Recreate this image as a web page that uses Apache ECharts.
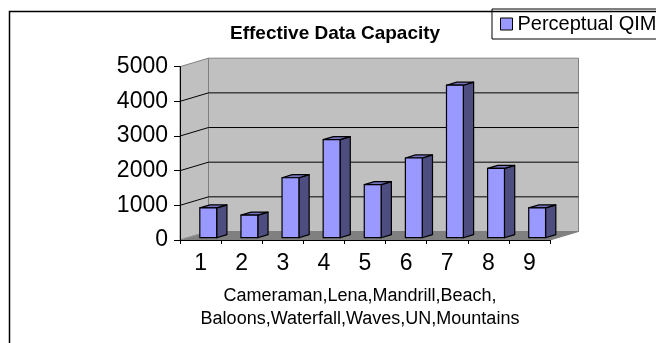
<!DOCTYPE html>
<html>
<head>
<meta charset="utf-8">
<title>Effective Data Capacity</title>
<script src="https://cdn.jsdelivr.net/npm/echarts@6/dist/echarts.min.js"></script>
<style>
  html, body { margin: 0; padding: 0; background: #ffffff; }
  #chart { width: 656px; height: 343px; }
</style>
</head>
<body>
<div id="chart"></div>
<script>
// Image index on the category axis and the capacity measured for each image
const categories = ['1', '2', '3', '4', '5', '6', '7', '8', '9'];
const capacity = [860, 650, 1730, 2830, 1530, 2300, 4400, 2000, 860];
const seriesName = 'Perceptual QIM';
const axisTitle = 'Cameraman,Lena,Mandrill,Beach,\nBaloons,Waterfall,Waves,UN,Mountains';
const valueMin = 0;
const valueMax = 5000;
const valueStep = 1000;
const gridValues = [1000, 2000, 3000, 4000];

// Oblique depth of the box and of each column
const DEPTH_X = 28.5;
const DEPTH_Y = -8.5;
const BAR_FRONT = 0.27;   // fraction of box depth where a column's face sits
const BAR_DEPTH = 0.36;   // fraction of box depth taken by a column
const BAR_WIDTH = 0.41;   // fraction of a category band

const FONT = 'Liberation Sans, Arial, sans-serif';

const chart = echarts.init(document.getElementById('chart'), null, { renderer: 'canvas' });

function renderFrame(params, api) {
  const band = api.size([1, 0])[0];
  const first = api.coord([0, valueMin]);
  const last = api.coord([categories.length - 1, valueMin]);
  const x0 = first[0] - band / 2;
  const x1 = last[0] + band / 2;
  const y0 = first[1];
  const yTop = api.coord([0, valueMax])[1];
  const children = [];
  // left side wall
  children.push({
    type: 'polygon',
    shape: { points: [[x0, y0], [x0, yTop], [x0 + DEPTH_X, yTop + DEPTH_Y], [x0 + DEPTH_X, y0 + DEPTH_Y]] },
    style: { fill: '#c0c0c0', stroke: '#808080', lineWidth: 1 }
  });
  // back wall
  children.push({
    type: 'rect',
    shape: { x: x0 + DEPTH_X, y: yTop + DEPTH_Y, width: x1 - x0, height: y0 - yTop },
    style: { fill: '#c0c0c0', stroke: '#808080', lineWidth: 1 }
  });
  // floor
  children.push({
    type: 'polygon',
    shape: { points: [[x0, y0], [x1, y0], [x1 + DEPTH_X, y0 + DEPTH_Y], [x0 + DEPTH_X, y0 + DEPTH_Y]] },
    style: { fill: '#808080', stroke: '#808080', lineWidth: 1 }
  });
  // left edge of the floor, drawn lightly dotted
  children.push({
    type: 'line',
    shape: { x1: x0, y1: y0, x2: x0 + DEPTH_X, y2: y0 + DEPTH_Y },
    style: { stroke: '#b0b0b0', lineWidth: 1, lineDash: [1, 2] }
  });
  // gridlines across side and back walls
  gridValues.forEach(function (v) {
    const y = api.coord([0, v])[1];
    children.push({
      type: 'polyline',
      shape: { points: [[x0, y], [x0 + DEPTH_X, y + DEPTH_Y], [x1 + DEPTH_X, y + DEPTH_Y]] },
      style: { stroke: '#000000', lineWidth: 1, fill: null }
    });
  });
  return { type: 'group', children: children };
}

function renderColumn(params, api) {
  const idx = api.value(0);
  const top = api.coord([idx, api.value(1)]);
  const base = api.coord([idx, valueMin]);
  const band = api.size([1, 0])[0];
  const w = band * BAR_WIDTH;
  const ox = DEPTH_X * BAR_FRONT;
  const oy = DEPTH_Y * BAR_FRONT;
  const dx = DEPTH_X * BAR_DEPTH;
  const dy = DEPTH_Y * BAR_DEPTH;
  const xl = top[0] - w / 2 + ox;
  const xr = xl + w;
  const yt = top[1] + oy;
  const yb = base[1] + oy;
  const line = { stroke: '#000000', lineWidth: 1.2, lineJoin: 'round' };
  return {
    type: 'group',
    children: [
      {
        type: 'polygon',
        shape: { points: [[xr, yt], [xr + dx, yt + dy], [xr + dx, yb + dy], [xr, yb]] },
        style: Object.assign({ fill: '#4d4d80' }, line)
      },
      {
        type: 'polygon',
        shape: { points: [[xl, yt], [xr, yt], [xr + dx, yt + dy], [xl + dx, yt + dy]] },
        style: Object.assign({ fill: '#7373bf' }, line)
      },
      {
        type: 'rect',
        shape: { x: xl, y: yt, width: w, height: yb - yt },
        style: Object.assign({ fill: '#9999ff' }, line)
      }
    ]
  };
}

const option = {
  animation: false,
  backgroundColor: '#ffffff',
  textStyle: { fontFamily: FONT },
  title: {
    text: 'Effective Data Capacity',
    left: 230,
    top: 24,
    padding: 0,
    textStyle: { fontFamily: FONT, fontSize: 19, fontWeight: 'bold', color: '#000000' }
  },
  legend: {
    left: 492,
    top: 9,
    padding: [5, 40, 5, 8],
    borderColor: '#000000',
    borderWidth: 1,
    itemWidth: 12,
    itemHeight: 12,
    selectedMode: false,
    textStyle: { fontFamily: FONT, fontSize: 20, color: '#000000' },
    data: [{
      name: seriesName,
      icon: 'rect',
      itemStyle: { color: '#9999ff', borderColor: '#000000', borderWidth: 1 }
    }]
  },
  graphic: [{
    type: 'rect',
    left: 7,
    top: 9,
    shape: { x: 0, y: 0, width: 800, height: 500 },
    style: { fill: null, stroke: '#000000', lineWidth: 1.5 },
    z: 100
  }],
  grid: { left: 180, top: 66.7, width: 370, height: 173.3, containLabel: false },
  xAxis: {
    type: 'category',
    data: categories,
    z: 10,
    axisLine: { show: true, lineStyle: { color: '#000000', width: 1 } },
    axisTick: { show: true, length: 4, lineStyle: { color: '#000000' } },
    axisLabel: { fontFamily: FONT, fontSize: 23, color: '#000000', margin: 12 },
    splitLine: { show: false },
    name: axisTitle,
    nameLocation: 'middle',
    nameGap: 45,
    nameTextStyle: { fontFamily: FONT, fontSize: 18, lineHeight: 23, color: '#000000', padding: [0, 10, 0, 0] }
  },
  yAxis: {
    type: 'value',
    min: valueMin,
    max: valueMax,
    interval: valueStep,
    z: 10,
    axisLine: { show: true, lineStyle: { color: '#000000', width: 1 } },
    axisTick: { show: true, length: 6, lineStyle: { color: '#000000' } },
    axisLabel: {
      fontFamily: FONT, fontSize: 23, color: '#000000', margin: 12,
      formatter: function (v) { return String(v); }
    },
    splitLine: { show: false }
  },
  series: [
    {
      name: 'frame',
      type: 'custom',
      renderItem: renderFrame,
      data: [[0, valueMin]],
      silent: true,
      z: 1
    },
    {
      name: seriesName,
      type: 'custom',
      renderItem: renderColumn,
      itemStyle: { color: '#9999ff' },
      encode: { x: 0, y: 1 },
      data: capacity.map(function (v, i) { return [i, v]; }),
      z: 2
    }
  ]
};

chart.setOption(option);
</script>
</body>
</html>
